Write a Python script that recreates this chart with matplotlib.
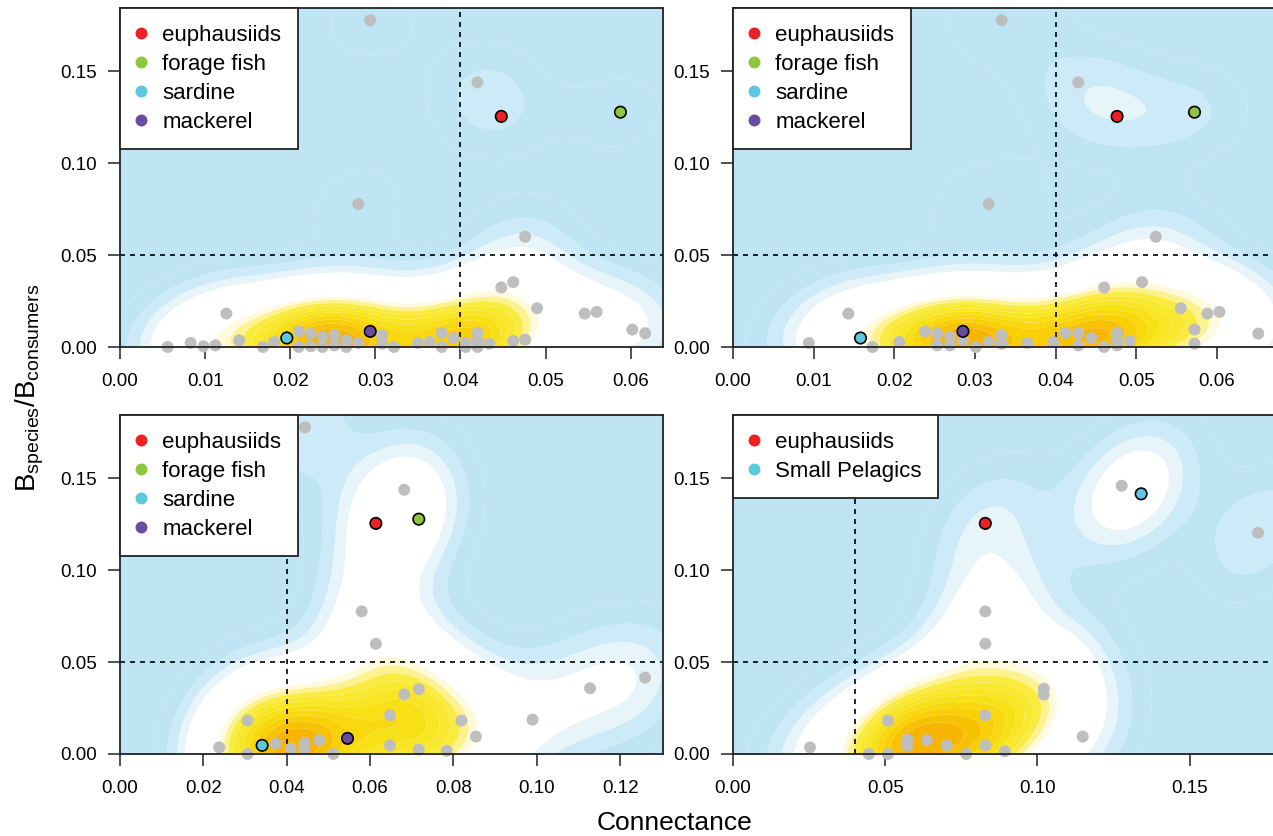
#!/usr/bin/env python3
"""
Four-panel connectance vs biomass-ratio plot with KDE background.
Saves out.png (1273x836 px).
"""
import matplotlib
matplotlib.use("Agg")
import numpy as np
import matplotlib.pyplot as plt
from matplotlib.colors import LinearSegmentedColormap
from matplotlib.lines import Line2D

plt.rcParams["font.family"] = ["Liberation Sans", "DejaVu Sans"]
plt.rcParams["mathtext.fontset"] = "custom"
plt.rcParams["mathtext.rm"] = "Liberation Sans"
plt.rcParams["mathtext.it"] = "Liberation Sans:italic"

# ── data ──────────────────────────────────────────────────────
tl_x = [0.0294, 0.0420, 0.0280, 0.0476, 0.0448, 0.0462, 0.0490, 0.0546, 0.0560, 0.0602,
        0.0617, 0.0125, 0.0056, 0.0083, 0.0098, 0.0112, 0.0140, 0.0168, 0.0181, 0.0210,
        0.0210, 0.0224, 0.0224, 0.0238, 0.0238, 0.0252, 0.0252, 0.0266, 0.0266, 0.0280,
        0.0308, 0.0308, 0.0322, 0.0350, 0.0364, 0.0378, 0.0378, 0.0392, 0.0406, 0.0406,
        0.0420, 0.0420, 0.0420, 0.0434, 0.0462, 0.0476]
tl_y = [0.1778, 0.1440, 0.0778, 0.0600, 0.0324, 0.0353, 0.0211, 0.0182, 0.0191, 0.0095,
        0.0075, 0.0182, 0.0000, 0.0022, 0.0004, 0.0009, 0.0036, 0.0000, 0.0027, 0.0085,
        0.0000, 0.0073, 0.0004, 0.0055, 0.0000, 0.0064, 0.0009, 0.0036, 0.0000, 0.0022,
        0.0064, 0.0018, 0.0000, 0.0022, 0.0027, 0.0076, 0.0000, 0.0049, 0.0022, 0.0000,
        0.0076, 0.0036, 0.0000, 0.0018, 0.0033, 0.0040]
tl_hl_x = [0.0448, 0.0588, 0.0196, 0.0294]
tl_hl_y = [0.1255, 0.1278, 0.0049, 0.0085]

tr_x = [0.0333, 0.0428, 0.0317, 0.0524, 0.0460, 0.0507, 0.0555, 0.0588, 0.0603, 0.0651,
        0.0572, 0.0572, 0.0143, 0.0094, 0.0173, 0.0206, 0.0238, 0.0253, 0.0253, 0.0269,
        0.0269, 0.0285, 0.0301, 0.0317, 0.0333, 0.0333, 0.0365, 0.0397, 0.0412, 0.0428,
        0.0428, 0.0444, 0.0460, 0.0476, 0.0476, 0.0476, 0.0492]
tr_y = [0.1778, 0.1440, 0.0778, 0.0600, 0.0324, 0.0353, 0.0211, 0.0182, 0.0191, 0.0073,
        0.0095, 0.0018, 0.0182, 0.0022, 0.0000, 0.0027, 0.0085, 0.0073, 0.0009, 0.0055,
        0.0009, 0.0036, 0.0000, 0.0027, 0.0064, 0.0018, 0.0022, 0.0027, 0.0076, 0.0076,
        0.0009, 0.0049, 0.0000, 0.0076, 0.0036, 0.0009, 0.0033]
tr_hl_x = [0.0476, 0.0572, 0.0158, 0.0285]
tr_hl_y = [0.1255, 0.1278, 0.0049, 0.0085]

bl_x = [0.0444, 0.0682, 0.0580, 0.0614, 0.0682, 0.0717, 0.1128, 0.0990, 0.0648, 0.0819,
        0.0854, 0.0306, 0.0238, 0.0306, 0.0374, 0.0410, 0.0443, 0.0443, 0.0478, 0.0512,
        0.0648, 0.0717, 0.0784, 0.1260]
bl_y = [0.1778, 0.1438, 0.0776, 0.0600, 0.0324, 0.0353, 0.0358, 0.0187, 0.0211, 0.0182,
        0.0095, 0.0182, 0.0036, 0.0000, 0.0056, 0.0029, 0.0060, 0.0029, 0.0075, 0.0000,
        0.0047, 0.0024, 0.0018, 0.0416]
bl_hl_x = [0.0614, 0.0717, 0.0341, 0.0546]
bl_hl_y = [0.1255, 0.1278, 0.0047, 0.0085]

br_x = [0.1277, 0.1725, 0.0829, 0.0829, 0.1021, 0.1021, 0.0509, 0.0829, 0.1149, 0.0253,
        0.0446, 0.0509, 0.0573, 0.0573, 0.0637, 0.0702, 0.0766, 0.0829, 0.0893]
br_y = [0.1460, 0.1204, 0.0776, 0.0600, 0.0355, 0.0324, 0.0182, 0.0211, 0.0095, 0.0036,
        0.0000, 0.0000, 0.0078, 0.0045, 0.0075, 0.0047, 0.0000, 0.0047, 0.0015]
br_hl_x = [0.0829, 0.1341]
br_hl_y = [0.1255, 0.1416]

labels4 = ["euphausiids", "forage fish", "sardine", "mackerel"]
colors4 = ["#ED2024", "#8DC63F", "#5BC8DE", "#684CA0"]
labels2 = ["euphausiids", "Small Pelagics"]
colors2 = ["#ED2024", "#5BC8DE"]

x_ticks_tl = [0.00, 0.01, 0.02, 0.03, 0.04, 0.05, 0.06]
x_ticks_bl = [0.00, 0.02, 0.04, 0.06, 0.08, 0.10, 0.12]
x_ticks_br = [0.00, 0.05, 0.10, 0.15]
y_ticks = [0.00, 0.05, 0.10, 0.15]

# ── style knobs ───────────────────────────────────────────────
W, H = 1273, 836
GREY = "#BEBEBE"
CMAP = LinearSegmentedColormap.from_list("kde", [
    (0.00, "#BFE4F4"), (0.10, "#BFE4F4"), (0.14, "#D4EDF8"), (0.18, "#EBF6FB"),
    (0.21, "#FFFFFF"), (0.50, "#FFFFFF"), (0.55, "#FFF5BA"), (0.63, "#FAEB3C"),
    (0.76, "#F8E31A"), (0.88, "#F9CF06"), (1.00, "#F7AE00")])
NLEV = 20


def kde_grid(x, y, xmax, ymax, sx, sy, rho):
    data = np.vstack([x, y])
    cov = np.array([[sx * sx, rho * sx * sy], [rho * sx * sy, sy * sy]])
    inv = np.linalg.inv(cov)
    gx = np.linspace(0, xmax, 220)
    gy = np.linspace(0, ymax, 220)
    X, Y = np.meshgrid(gx, gy)
    d = np.stack([X.ravel(), Y.ravel()])[:, :, None] - data[:, None, :]
    q = np.einsum("ipk,ij,jpk->pk", d, inv, d)
    return X, Y, np.exp(-0.5 * q).sum(axis=1).reshape(X.shape)


def panel(rect, xmax, gx, gy, hx, hy, labels, colors, xticks, bw):
    l, t, w, h = rect
    ax = fig.add_axes([l / W, 1 - (t + h) / H, w / W, h / H])
    ymax = 0.1845
    X, Y, Z = kde_grid(np.concatenate([gx, hx]), np.concatenate([gy, hy]),
                       xmax, ymax, *bw)
    lev = np.linspace(0, Z.max(), NLEV + 1)
    cols = [CMAP((i + 0.5) / NLEV) for i in range(NLEV)]
    ax.contourf(X, Y, Z, levels=lev, colors=cols, antialiased=True, zorder=0)
    ax.axvline(0.04, color="black", lw=1.2, ls=(0, (3, 3)), zorder=2)
    ax.axhline(0.05, color="black", lw=1.2, ls=(0, (3, 3)), zorder=2)
    ax.scatter(gx, gy, s=74, color=GREY, edgecolors="none", zorder=3, clip_on=False)
    ax.scatter(hx, hy, s=68, c=colors, edgecolors="black", linewidths=1.2, zorder=4)
    ax.set_xlim(0, xmax)
    ax.set_ylim(0, ymax)
    ax.set_xticks(xticks)
    ax.set_xticklabels([f"{v:.2f}" for v in xticks])
    ax.set_yticks(y_ticks)
    ax.set_yticklabels([f"{v:.2f}" for v in y_ticks])
    ax.tick_params(axis="both", length=8.5, width=1.1, labelsize=13.5, color="#222222")
    ax.tick_params(axis="x", pad=10)
    ax.tick_params(axis="y", pad=8)
    for s in ax.spines.values():
        s.set_linewidth(1.3)
        s.set_color("#222222")
        s.set_zorder(5)
    handles = [Line2D([], [], ls="none", marker="o", markersize=8.6, color=c,
                      markeredgewidth=0) for c in colors]
    leg = ax.legend(handles, labels, loc="upper left", bbox_to_anchor=(0, 1),
                    borderaxespad=0, borderpad=0.75, handlelength=0.4, handletextpad=0.75,
                    labelspacing=0.36, fontsize=16, fancybox=False, framealpha=1,
                    edgecolor="#222222")
    leg.get_frame().set_linewidth(1.3)
    leg.set_zorder(6)
    return ax


fig = plt.figure(figsize=(W / 100, H / 100), dpi=100)

panel((120, 8, 543, 339), 0.0638, np.array(tl_x), np.array(tl_y),
      np.array(tl_hl_x), np.array(tl_hl_y), labels4, colors4, x_ticks_tl,
      (0.0050, 0.020, 0.10))
panel((733, 8, 543, 339), 0.0673, np.array(tr_x), np.array(tr_y),
      np.array(tr_hl_x), np.array(tr_hl_y), labels4, colors4, x_ticks_tl,
      (0.0058, 0.020, 0.10))
panel((120, 415, 543, 339), 0.1303, np.array(bl_x), np.array(bl_y),
      np.array(bl_hl_x), np.array(bl_hl_y), labels4, colors4, x_ticks_bl,
      (0.0095, 0.026, 0.15))
panel((733, 415, 543, 339), 0.1784, np.array(br_x), np.array(br_y),
      np.array(br_hl_x), np.array(br_hl_y), labels2, colors2, x_ticks_br,
      (0.0145, 0.026, 0.35))

fig.text(675 / W, 1 - 823 / H, "Connectance", ha="center", va="center", fontsize=19)
fig.text(30 / W, 1 - 388 / H,
         r"$\mathrm{B}_{\mathrm{species}}/\mathrm{B}_{\mathrm{consumers}}$",
         ha="center", va="center", rotation=90, fontsize=20)

fig.savefig("out.png", dpi=100)
